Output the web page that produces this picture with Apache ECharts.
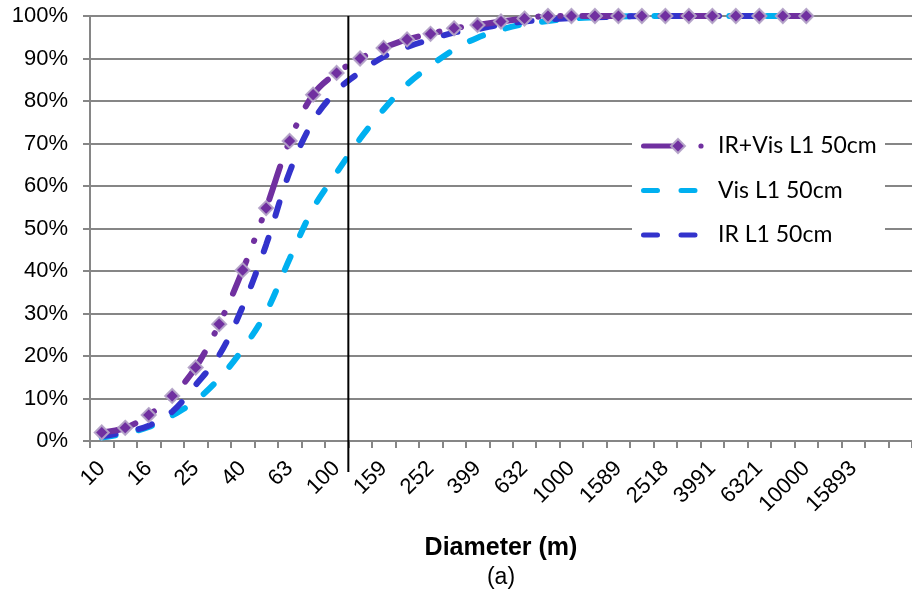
<!DOCTYPE html>
<html>
<head>
<meta charset="utf-8">
<script src="https://cdn.jsdelivr.net/npm/echarts@6/dist/echarts.min.js"></script>
<style>
html,body{margin:0;padding:0;background:#fff;}
#chart{width:912px;height:596px;}
</style>
</head>
<body>
<div id="chart"></div>
<script>
// Category axis (log-spaced diameters, metres); only every other label is shown
const categories = ['10','13','16','20','25','32','40','50','63','79','100','126','159','200','252','317','399','502','632','796','1000','1262','1589','2000','2518','3170','3991','5024','6321','7962','10000','12619','15893','20000','25119'];

// Cumulative percentages
const irVisValues = [2.0, 3.1, 6.1, 10.6, 17.3, 27.5, 40.2, 54.8, 70.6, 81.5, 86.6, 90.0, 92.5, 94.5, 95.8, 97.1, 97.9, 98.7, 99.4, 100, 100, 100, 100, 100, 100, 100, 100, 100, 100, 100, 100];
const visValues   = [0.8, 1.8, 3.3, 6.0, 9.5, 14.7, 21.6, 30.3, 42.9, 54.7, 63.1, 71.1, 78.0, 83.9, 88.3, 92.1, 94.9, 96.8, 98.1, 98.8, 99.4, 99.7, 99.9, 100, 100, 100, 100, 100, 100, 100, 100];
const irValues    = [1.1, 2.1, 3.6, 6.9, 13.2, 20.2, 31.6, 46.2, 63.3, 75.3, 82.4, 86.8, 90.4, 92.7, 94.5, 96.1, 96.9, 98.0, 98.7, 99.2, 99.5, 99.7, 99.8, 100, 100, 100, 100, 100, 100, 100, 100];

const seriesNames = ['IR+Vis L1 50cm', 'Vis L1 50cm', 'IR L1 50cm'];
const xTitle = 'Diameter (m)';
const subTitle = '(a)';
const markerBoundary = [10, 11]; // vertical reference line between these category indices

const gray = '#868686';
const purple = '#7030A0';
const cyan = '#00B0F0';
const blue = '#3333CC';
const arial = "'Liberation Sans', Arial, sans-serif";
const legendFont = "Lato, 'Open Sans', sans-serif";
const dashVis = [14, 23.5];
const dashMix = [35, 21.5, 0.5, 21.5, 0.5, 21.5];
const markerBorder = 'rgba(179,162,199,0.95)';
const lw = 5;

const chart = echarts.init(document.getElementById('chart'), null, {renderer: 'canvas'});

const option = {
  animation: false,
  backgroundColor: '#fff',
  grid: {left: 90, right: -2, top: 16, bottom: 155, containLabel: false},
  xAxis: {
    type: 'category',
    data: categories,
    boundaryGap: true,
    axisLine: {lineStyle: {color: gray, width: 2}},
    axisTick: {show: true, interval: 0, length: 7, lineStyle: {color: gray, width: 2}},
    axisLabel: {
      interval: function (i) { return i % 2 === 0 && i < 34; },
      rotate: 45, margin: 24, fontSize: 22, color: '#000', fontFamily: arial
    },
    splitLine: {show: false}
  },
  yAxis: {
    type: 'value', min: 0, max: 100, interval: 10,
    axisLine: {show: true, lineStyle: {color: gray, width: 2}},
    axisTick: {show: true, length: 7, lineStyle: {color: gray, width: 2}},
    axisLabel: {formatter: '{value}%', margin: 22, fontSize: 22, color: '#000', fontFamily: arial},
    splitLine: {show: true, lineStyle: {color: gray, width: 2}}
  },
  series: [
    {
      name: seriesNames[1], type: 'line', data: visValues, smooth: 0.35, clip: false,
      symbol: 'none',
      itemStyle: {color: cyan},
      lineStyle: {color: cyan, width: 6, type: dashVis, cap: 'round'},
      z: 2
    },
    {
      name: seriesNames[2], type: 'line', data: irValues, smooth: 0.35, clip: false,
      symbol: 'none',
      itemStyle: {color: blue},
      lineStyle: {color: blue, width: 6, type: dashVis, cap: 'round'},
      z: 3
    },
    {
      name: seriesNames[0], type: 'line', data: irVisValues, smooth: 0.35, clip: false,
      symbol: 'diamond', symbolSize: 14, showAllSymbol: true,
      itemStyle: {color: purple, borderColor: markerBorder, borderWidth: 2},
      lineStyle: {color: purple, width: 6, type: dashMix, cap: 'round'},
      z: 4
    }
  ]
};
chart.setOption(option);

// Vertical reference line & axis title positioned from the axes
const xa = chart.convertToPixel({xAxisIndex: 0}, markerBoundary[0]);
const xb = chart.convertToPixel({xAxisIndex: 0}, markerBoundary[1]);
const xLine = (xa + xb) / 2;
const yTop = chart.convertToPixel({yAxisIndex: 0}, 100);
const yZero = chart.convertToPixel({yAxisIndex: 0}, 0);
const xFirst = chart.convertToPixel({xAxisIndex: 0}, 0);
const xLast = chart.convertToPixel({xAxisIndex: 0}, categories.length - 1);
const step = (xLast - xFirst) / (categories.length - 1);
const plotCenter = ((xFirst - step / 2) + (xLast + step / 2)) / 2;

// Legend (drawn by hand so the samples match the line styles)
const lg = {x: 632, y: 120, w: 253, h: 135, rows: [146, 190.5, 235], sx1: 643.5, sx2: 697.5, tx: 718};
const legendEls = [
  {type: 'rect', z: 20, shape: {x: lg.x, y: lg.y, width: lg.w, height: lg.h}, style: {fill: '#fff'}},
  // IR+Vis sample: dash, diamond, dot
  {type: 'line', z: 21, shape: {x1: lg.sx1, y1: lg.rows[0], x2: 676, y2: lg.rows[0]}, style: {stroke: purple, lineWidth: lw, lineCap: 'round'}},
  {type: 'polygon', z: 22, shape: {points: [[678, lg.rows[0] - 7], [685, lg.rows[0]], [678, lg.rows[0] + 7], [671, lg.rows[0]]]}, style: {fill: purple, stroke: markerBorder, lineWidth: 2}},
  {type: 'circle', z: 21, shape: {cx: 701, cy: lg.rows[0], r: 2.6}, style: {fill: purple}},
  // Vis sample
  {type: 'line', z: 21, shape: {x1: lg.sx1, y1: lg.rows[1], x2: lg.sx2, y2: lg.rows[1]}, style: {stroke: cyan, lineWidth: lw, lineCap: 'round', lineDash: dashVis}},
  // IR sample
  {type: 'line', z: 21, shape: {x1: lg.sx1, y1: lg.rows[2], x2: lg.sx2, y2: lg.rows[2]}, style: {stroke: blue, lineWidth: lw, lineCap: 'round', lineDash: dashVis}}
];
seriesNames.forEach(function (name, i) {
  legendEls.push({type: 'text', z: 21, x: lg.tx, y: lg.rows[i], style: {text: name, fontFamily: legendFont, fontSize: 23, fill: '#000', textAlign: 'left', textVerticalAlign: 'middle'}});
});

chart.setOption({
  graphic: [
    {type: 'line', z: 10, shape: {x1: xLine, y1: yTop, x2: xLine, y2: yZero + 31}, style: {stroke: '#000', lineWidth: 2}},
    {type: 'text', x: plotCenter, y: yZero + 107, style: {text: xTitle, fontFamily: arial, fontWeight: 'bold', fontSize: 25, fill: '#000', textAlign: 'center', textVerticalAlign: 'middle'}},
    {type: 'text', x: plotCenter, y: yZero + 137, style: {text: subTitle, fontFamily: arial, fontSize: 23, fill: '#000', textAlign: 'center', textVerticalAlign: 'middle'}}
  ].concat(legendEls)
});
</script>
</body>
</html>
